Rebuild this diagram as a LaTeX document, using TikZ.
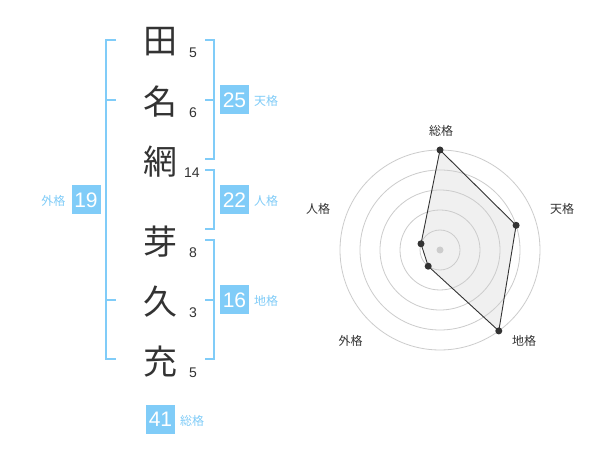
\documentclass[tikz,border=0pt]{standalone}
\usepackage{fontspec}
\setmainfont{Liberation Sans}
\newfontfamily\jp{Noto Sans CJK JP}
\definecolor{kblue}{RGB}{128,204,248}
\definecolor{ktext}{RGB}{51,51,51}
\definecolor{kring}{RGB}{204,204,204}
\definecolor{kfill}{RGB}{240,240,240}
\begin{document}
\begin{tikzpicture}[x=1pt,y=-1pt,
 kanji/.style={font=\jp\fontsize{34}{34}\selectfont, text=ktext, inner sep=0},
 strokes/.style={font=\fontsize{14}{14}\selectfont, text=ktext, inner sep=0},
 numbox/.style={fill=kblue, text=white, minimum width=29, minimum height=29, inner sep=0, font=\fontsize{21}{21}\selectfont},
 lab/.style={text=kblue, font=\jp\fontsize{12}{12}\selectfont, inner sep=0},
 brk/.style={draw=kblue, line width=2},
 ring/.style={draw=kring, line width=0.8},
 rlab/.style={text=ktext, font=\jp\fontsize{12}{12}\selectfont, inner sep=0},
 dot/.style={circle, fill=ktext, inner sep=0, minimum size=7},
 cdot/.style={circle, fill=kring, inner sep=0, minimum size=7}
]
\useasboundingbox[fill=white] (0,0) rectangle (600,470);
% kanji
\node[kanji] (k1) at (160,42) {田};
\node[kanji] (k2) at (160,102) {名};
\node[kanji] (k3) at (160,162) {網};
\node[kanji] (k4) at (160,242) {芽};
\node[kanji] (k5) at (160,302) {久};
\node[kanji] (k6) at (160,362) {充};
% stroke counts
\node[strokes] (s1) at (193,53) {5};
\node[strokes] (s2) at (193,113) {6};
\node[strokes] (s3) at (192,173) {14};
\node[strokes] (s4) at (193,253) {8};
\node[strokes] (s5) at (193,313) {3};
\node[strokes] (s6) at (193,373) {5};
% brackets
\draw[brk] (116,40) -- (106,40) -- (106,359) -- (116,359);
\draw[brk] (106,100) -- (116,100);
\draw[brk] (106,300) -- (116,300);
\draw[brk] (205,40) -- (214,40) -- (214,159) -- (205,159);
\draw[brk] (214,100) -- (205,100);
\draw[brk] (205,170) -- (214,170) -- (214,229) -- (205,229);
\draw[brk] (205,240) -- (214,240) -- (214,359) -- (205,359);
\draw[brk] (214,300) -- (205,300);
% boxes
\node[numbox] (ten) at (234.5,100) {25};
\node[lab] (tenl) at (266,101) {天格};
\node[numbox] (jin) at (234.5,200) {22};
\node[lab] (jinl) at (266,201) {人格};
\node[numbox] (chi) at (234.5,300) {16};
\node[lab] (chil) at (266,301) {地格};
\node[numbox] (gai) at (86,200) {19};
\node[lab] (gail) at (53.5,201) {外格};
\node[numbox] (sou) at (160.5,419) {41};
\node[lab] (soul) at (192,421) {総格};
% radar
\coordinate (c) at (440,250);
\coordinate (pS) at (440,150);
\coordinate (pT) at (516.1,225.3);
\coordinate (pC) at (498.8,330.9);
\coordinate (pG) at (428.2,266.2);
\coordinate (pJ) at (421,243.8);
\fill[kfill] (pS) -- (pT) -- (pC) -- (pG) -- (pJ) -- cycle;
\foreach \r in {20,40,60,80,100} \draw[ring] (c) circle[radius=\r];
\draw[ktext, line width=0.9] (pS) -- (pT) -- (pC) -- (pG) -- (pJ) -- cycle;
\node[cdot] (cd) at (c) {};
\foreach \p in {pS,pT,pC,pG,pJ} \node[dot] at (\p) {};
\node[rlab] (lS) at (441,130.7) {総格};
\node[rlab] (lT) at (562,208.7) {天格};
\node[rlab] (lC) at (524,340.7) {地格};
\node[rlab] (lG) at (350.5,340.7) {外格};
\node[rlab] (lJ) at (318,208.7) {人格};
\end{tikzpicture}
\end{document}
